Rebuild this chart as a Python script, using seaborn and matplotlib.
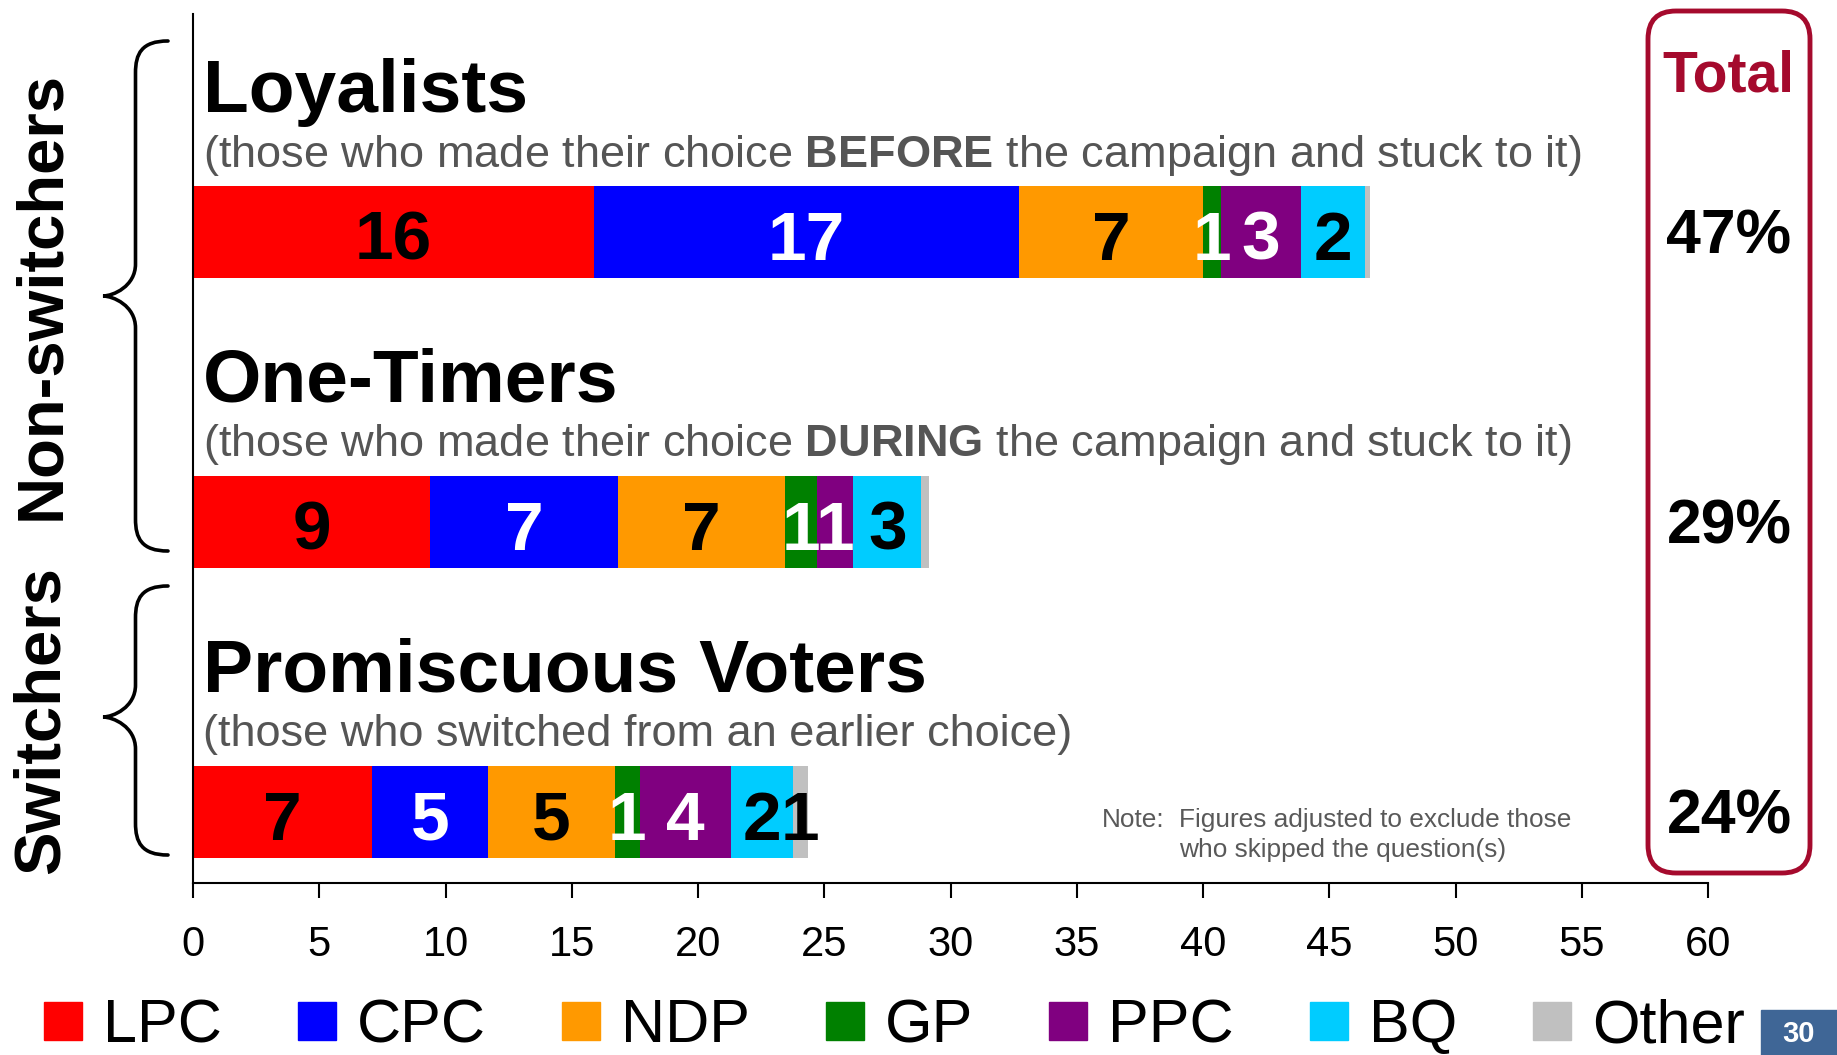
import numpy as np
import pandas as pd
import matplotlib
matplotlib.use('Agg')
import matplotlib.pyplot as plt
import seaborn as sns
from matplotlib.path import Path
from matplotlib.patches import PathPatch, FancyBboxPatch, Rectangle
from matplotlib.lines import Line2D

# data
groups = ['Loyalists', 'One-Timers', 'Promiscuous Voters']
subtitles = [
    '(those who made their choice $\\mathbf{BEFORE}$ the campaign and stuck to it)',
    '(those who made their choice $\\mathbf{DURING}$ the campaign and stuck to it)',
    '(those who switched from an earlier choice)',
]
parties = ['LPC', 'CPC', 'NDP', 'GP', 'PPC', 'BQ', 'Other']
party_colors = ['#FF0000', '#0000FF', '#FF9900', '#008000', '#800080', '#00CCFF', '#C0C0C0']
label_colors = ['black', 'white', 'black', 'white', 'white', 'black', 'black']
lpc = [15.9, 9.4, 7.1]
cpc = [16.8, 7.45, 4.6]
ndp = [7.3, 6.6, 5.0]
gp = [0.7, 1.25, 1.0]
ppc = [3.2, 1.45, 3.6]
bq = [2.5, 2.7, 2.45]
other = [0.2, 0.3, 0.6]
totals = [47, 29, 24]
x_ticks = list(range(0, 61, 5))
side_labels = ['Non-switchers', 'Switchers']
note_text = ['Note:', 'Figures adjusted to exclude those', 'who skipped the question(s)']
page_no = '30'

W, H = 1837, 1055
sns.set_theme(style='white')
plt.rcParams['font.family'] = 'Liberation Sans'
plt.rcParams['text.color'] = 'black'
plt.rcParams['xtick.color'] = 'black'
plt.rcParams['mathtext.fontset'] = 'custom'
plt.rcParams['mathtext.rm'] = 'Liberation Sans'
plt.rcParams['mathtext.bf'] = 'Liberation Sans:bold'

df = pd.DataFrame({'group': groups, 'LPC': lpc, 'CPC': cpc, 'NDP': ndp, 'GP': gp,
                   'PPC': ppc, 'BQ': bq, 'Other': other})
cum = df[parties].cumsum(axis=1)

fig = plt.figure(figsize=(W / 100, H / 100), dpi=100)
ax = fig.add_axes([193 / W, 1 - 883 / H, 1515 / W, 869 / H])

# stacked bars: draw cumulative totals from the back
for p, c in reversed(list(zip(parties, party_colors))):
    sns.barplot(x=cum[p], y=df['group'], color=c, orient='h', width=0.32,
                saturation=1, linewidth=0, errorbar=None, ax=ax)

ax.set_xlim(0, 60)
ax.set_ylim(2.245, -0.752)
ax.set_xticks(x_ticks)
ax.set_yticks([])
ax.set_xlabel('')
ax.set_ylabel('')
ax.tick_params(axis='x', direction='out', length=11, width=1.5, color='black',
               labelcolor='black', pad=19, labelsize=30, bottom=True)
for s in ['top', 'right']:
    ax.spines[s].set_visible(False)
for s in ['left', 'bottom']:
    ax.spines[s].set_color('black')
    ax.spines[s].set_linewidth(1.5)

for i, g in enumerate(groups):
    ax.text(0.4, i - 0.415, g, fontsize=54, fontweight='bold', va='baseline', ha='left',
            color='black')
    ax.text(0.4, i - 0.226, subtitles[i], fontsize=32.5, color='#555555', va='baseline',
            ha='left')
    left = 0
    for p, tc in zip(parties, label_colors):
        v = df.loc[i, p]
        if round(v) > 0:
            ax.text(left + v / 2, i + 0.095, str(round(v)), ha='center', va='baseline',
                    color=tc, fontsize=50, fontweight='bold')
        left += v

# overlay in pixel coordinates for the decorations
ov = fig.add_axes([0, 0, 1, 1])
ov.set_xlim(0, W)
ov.set_ylim(H, 0)
ov.axis('off')
ov.patch.set_visible(False)


def brace(x_tip, x_end, y_top, y_bot, y_mid, r=32):
    xm = (x_tip + x_end) / 2
    verts = [
        (x_end, y_top),
        (xm + 6, y_top), (xm, y_top + r * 0.4), (xm, y_top + r),
        (xm, y_mid - r),
        (xm, y_mid - r * 0.3), (x_tip + 10, y_mid), (x_tip, y_mid),
        (x_tip + 10, y_mid), (xm, y_mid + r * 0.3), (xm, y_mid + r),
        (xm, y_bot - r),
        (xm, y_bot - r * 0.4), (xm + 6, y_bot), (x_end, y_bot),
    ]
    codes = [Path.MOVETO, Path.CURVE4, Path.CURVE4, Path.CURVE4, Path.LINETO,
             Path.CURVE4, Path.CURVE4, Path.CURVE4, Path.CURVE4, Path.CURVE4, Path.CURVE4,
             Path.LINETO, Path.CURVE4, Path.CURVE4, Path.CURVE4]
    ov.add_patch(PathPatch(Path(verts, codes), fill=False, lw=2.6, color='black',
                           capstyle='round'))


brace(103, 168, 41, 551, 296)
brace(103, 168, 586, 855, 717)
ov.text(42, 295, side_labels[0], rotation=90, fontsize=47, fontweight='bold',
        ha='center', va='center', color='black')
ov.text(42, 720, side_labels[1], rotation=90, fontsize=47, fontweight='bold',
        ha='center', va='center', color='black')

# total box
box_color = '#A50A2D'
ov.add_patch(FancyBboxPatch((1648, 11), 162, 862, boxstyle='round,pad=0,rounding_size=28',
                            fill=False, lw=3.5, ec=box_color))
ov.text(1728, 91, 'Total', fontsize=41, fontweight='bold', color=box_color,
        ha='center', va='baseline')
bar_centers = [232, 522, 812]
for t, yc in zip(totals, bar_centers):
    ov.text(1729, yc + 22, f'{t}%', fontsize=45, fontweight='bold', ha='center',
            va='baseline', color='black')

# note
ov.text(1102, 827, note_text[0], fontsize=18.9, color='#595959', va='baseline')
ov.text(1179, 827, note_text[1], fontsize=18.9, color='#595959', va='baseline')
ov.text(1179, 857, note_text[2], fontsize=18.9, color='#595959', va='baseline')

# legend
handles = [Line2D([0], [0], marker='s', linestyle='none', markersize=27,
                  markerfacecolor=c, markeredgecolor=c) for c in party_colors]
leg = fig.legend(handles, parties, loc='center left', bbox_to_anchor=(44 / W, 1 - 1027 / H),
                 ncol=7, frameon=False, fontsize=44, handlelength=0.62, handletextpad=0.34,
                 columnspacing=1.25, borderpad=0, borderaxespad=0)
for t in leg.get_texts():
    t.set_color('black')

# page number
ov.add_patch(Rectangle((1761, 1010), 76, 45, color='#3F6696'))
ov.text(1799, 1034, page_no, fontsize=21, fontweight='bold', color='white',
        ha='center', va='center')

fig.savefig('out.png', dpi=100)
